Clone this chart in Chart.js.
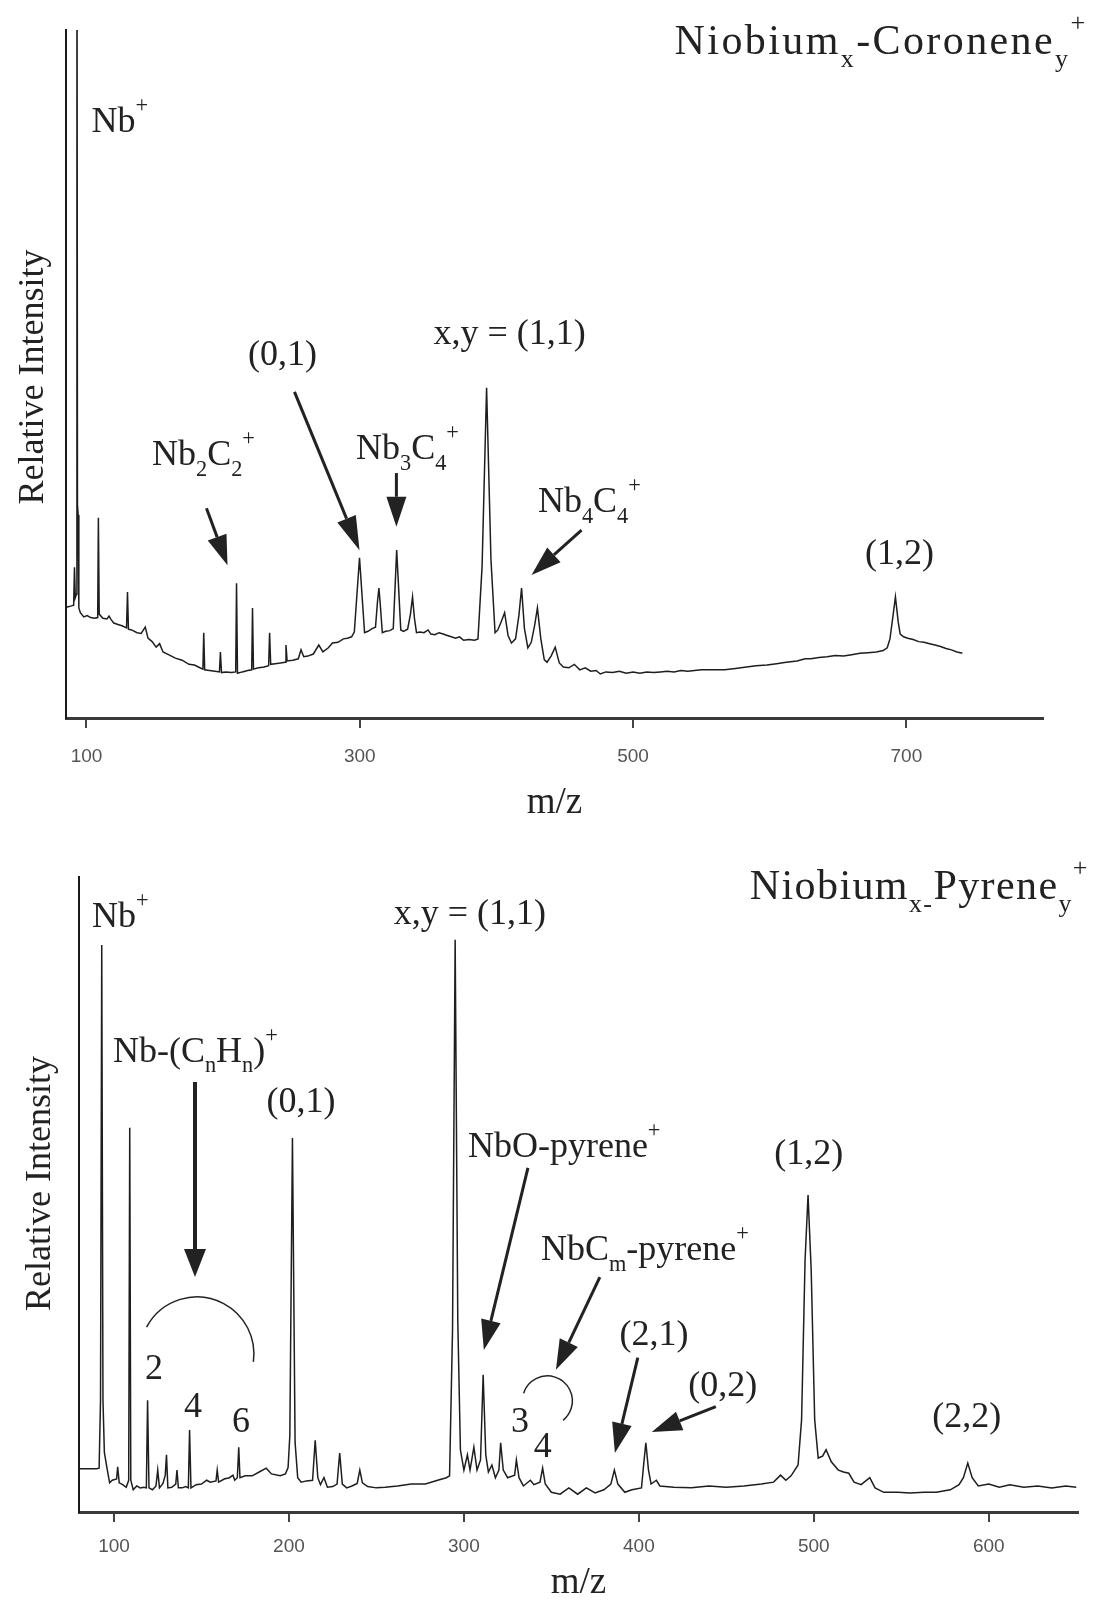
<!DOCTYPE html>
<html>
<head>
<meta charset="utf-8">
<script src="https://cdn.jsdelivr.net/npm/chart.js@4.4.1/dist/chart.umd.min.js"></script>
<style>
  body { margin: 0; background: #fff; }
  canvas { position: absolute; left: 0; }
</style>
</head>
<body>
<canvas id="coroneneChart" width="1099" height="820" style="top:0"></canvas>
<canvas id="pyreneChart" width="1099" height="780" style="top:820px"></canvas>
<script>
// Nb / coronene mass spectrum (m/z, relative intensity)
const coroneneMz = [
  85.3, 89.0, 90.6, 91.2, 91.8, 92.6, 93.0, 93.4, 93.9, 94.4, 95.5, 98.0, 100.5, 103.0, 106.0,
  108.2, 108.7, 109.3, 112.0, 115.0, 116.5, 118.0, 120.0, 123.0, 126.0, 129.3, 130.0, 130.7,
  133.0, 137.0, 140.0, 143.0, 145.0, 148.0, 151.0, 153.5, 156.0, 160.0, 165.0, 170.0, 175.0,
  179.0, 183.0, 185.2, 185.8, 186.5, 190.0, 194.0, 197.3, 198.0, 198.8, 202.0, 206.0, 209.2,
  209.8, 210.5, 214.0, 218.0, 220.9, 221.5, 222.2, 226.0, 230.0, 233.3, 234.0, 234.8, 238.0,
  242.0, 245.3, 246.0, 246.8, 251.0, 255.0, 257.0, 259.0, 262.0, 266.0, 270.0, 273.0, 277.0,
  280.0, 284.0, 288.0, 291.0, 294.0, 296.0, 299.8, 303.5, 306.0, 309.0, 311.5, 313.0, 314.0,
  315.0, 316.5, 319.0, 322.0, 324.5, 327.0, 330.0, 332.0, 335.0, 337.0, 338.6, 340.0, 341.5,
  344.0, 347.0, 350.0, 352.0, 355.0, 358.0, 361.0, 364.0, 367.0, 370.0, 373.0, 376.0, 380.0,
  384.0, 386.5, 389.5, 392.8, 396.0, 399.0, 401.0, 403.5, 406.0, 408.5, 411.0, 414.0, 416.5,
  418.4, 420.5, 423.0, 425.5, 428.0, 430.0, 432.5, 435.0, 437.0, 440.0, 443.0, 446.0, 449.0,
  453.0, 457.0, 461.0, 465.0, 469.0, 473.0, 476.0, 480.0, 485.0, 490.0, 495.0, 500.0, 505.0,
  510.0, 515.0, 520.0, 525.0, 530.0, 535.0, 540.0, 545.0, 550.0, 558.0, 567.0, 575.0, 583.0,
  590.0, 598.0, 605.0, 612.0, 620.0, 626.0, 630.0, 636.0, 642.0, 648.0, 654.0, 660.0, 666.0,
  672.0, 678.0, 683.0, 686.0, 688.0, 690.0, 692.0, 694.0, 695.5, 698.0, 701.0, 705.0, 709.0,
  713.0, 717.0, 721.0, 725.0, 729.0, 733.0, 737.0, 741.0
];
const coroneneSignal = [
  16.1, 16.3, 16.4, 21.9, 17.5, 18.0, 130, 31.0, 29.5, 16.0, 15.3, 14.7, 14.9, 14.6, 14.5,
  14.6, 29.1, 15.1, 14.5, 14.4, 14.8, 14.3, 13.8, 13.6, 13.4, 13.1, 18.3, 12.9,
  12.8, 12.4, 12.3, 13.2, 11.6, 11.1, 10.3, 10.8, 9.6, 9.2, 8.7, 8.4, 7.8,
  7.7, 7.3, 7.1, 12.4, 7.0, 6.9, 6.8, 6.7, 9.6, 6.6, 6.7, 6.6, 6.7,
  19.6, 6.5, 6.7, 6.9, 7.0, 16.0, 7.1, 7.3, 7.4, 7.6, 12.4, 7.8, 7.9,
  8.0, 8.1, 10.6, 8.3, 8.4, 8.6, 9.9, 8.9, 9.0, 9.3, 10.6, 9.6, 10.2,
  10.9, 11.0, 11.5, 11.6, 11.8, 12.5, 23.3, 12.4, 12.6, 13.0, 13.2, 17.0, 18.9,
  16.5, 12.4, 12.6, 12.7, 13.0, 24.4, 12.8, 12.6, 12.9, 15.0, 17.6, 14.5, 12.4,
  12.5, 12.4, 12.8, 12.2, 12.1, 12.4, 12.2, 12.0, 11.8, 11.6, 11.8, 11.3, 11.4,
  11.3, 11.5, 22.0, 48.0, 23.0, 12.4, 12.8, 14.0, 15.3, 12.0, 10.9, 11.5, 15.0,
  18.9, 13.0, 10.2, 11.0, 13.5, 16.0, 11.5, 8.5, 8.1, 9.0, 10.3, 8.0, 7.4,
  7.3, 7.8, 7.0, 7.3, 6.8, 6.9, 6.4, 6.7, 6.6, 6.8, 6.5, 6.7, 6.5,
  6.7, 6.6, 6.7, 6.8, 6.7, 6.9, 6.8, 6.9, 7.0, 7.0, 7.0, 7.2, 7.4,
  7.6, 7.7, 7.9, 8.1, 8.3, 8.6, 8.6, 8.8, 8.9, 9.1, 9.0, 9.2, 9.4,
  9.5, 9.6, 9.8, 10.2, 11.5, 14.5, 17.6, 14.0, 12.2, 11.8, 11.6, 11.4, 11.1,
  11.0, 10.8, 10.6, 10.4, 10.1, 9.9, 9.6, 9.4
];
const coroneneTicks = [100, 300, 500, 700];

// Nb / pyrene mass spectrum (m/z, relative intensity)
const pyreneMz = [
  80.0, 85.0, 90.0, 91.5, 92.3, 93.0, 93.7, 94.5, 96.0, 97.5, 99.0, 101.5, 102.1, 103.0, 105.0,
  107.0, 108.4, 109.0, 109.6, 111.0, 113.0, 115.0, 117.0, 118.5, 119.2, 120.0, 122.0, 124.0,
  125.0, 126.0, 128.0, 129.3, 130.0, 130.8, 133.0, 135.3, 136.0, 136.8, 139.0, 141.0, 142.5,
  143.2, 144.0, 147.0, 150.0, 153.0, 155.0, 158.3, 159.0, 159.8, 163.0, 166.0, 168.0, 169.0,
  170.5, 171.3, 172.0, 175.0, 179.0, 183.0, 187.0, 190.0, 195.0, 198.0, 199.5, 200.5, 202.0,
  203.5, 205.0, 207.0, 210.0, 213.5, 215.0, 216.5, 218.0, 220.0, 222.0, 225.0, 227.5, 229.0,
  230.5, 233.0, 236.0, 239.0, 240.5, 242.0, 245.0, 250.0, 255.0, 262.0, 270.0, 278.0, 285.0,
  290.0, 291.8, 293.5, 295.0, 296.5, 298.0, 300.0, 302.0, 303.5, 305.7, 307.5, 309.5, 311.0,
  312.5, 314.0, 316.0, 318.0, 320.0, 321.0, 322.5, 325.0, 329.0, 330.0, 331.5, 334.0, 338.0,
  340.0, 343.5, 345.0, 346.5, 350.0, 355.0, 360.0, 365.0, 370.0, 375.0, 380.0, 384.0, 386.0,
  388.0, 392.0, 396.0, 401.5, 403.0, 404.0, 405.5, 407.0, 410.0, 412.0, 420.0, 430.0, 440.0,
  450.0, 460.0, 470.0, 477.0, 481.0, 484.0, 487.0, 491.0, 493.0, 495.0, 496.7, 498.5, 500.5,
  502.5, 505.0, 507.0, 510.0, 514.0, 517.0, 520.0, 523.0, 527.0, 532.0, 535.0, 540.0, 548.0,
  555.0, 563.0, 570.0, 578.0, 583.0, 585.5, 588.0, 590.5, 594.0, 600.0, 606.0, 612.0, 620.0,
  628.0, 636.0, 644.0, 650.0
];
const pyreneSignal = [
  6.8, 6.8, 6.8, 6.9, 17.6, 89.3, 17.6, 9.4, 6.9, 4.6, 5.0, 5.2, 7.1, 4.6, 4.3,
  3.9, 5.0, 60.5, 5.0, 3.5, 4.1, 3.8, 3.9, 3.8, 17.6, 3.8, 3.5, 4.1,
  6.6, 3.8, 4.5, 5.8, 9.0, 3.8, 3.9, 4.4, 6.6, 3.8, 3.8, 4.0, 3.8,
  12.9, 3.8, 4.3, 4.4, 5.0, 4.7, 4.9, 6.6, 4.7, 5.2, 5.4, 5.8, 5.0,
  5.4, 10.2, 5.4, 5.7, 5.7, 6.3, 6.9, 6.0, 5.7, 6.0, 7.0, 12.0, 58.9,
  11.0, 5.4, 4.7, 4.9, 5.0, 11.3, 5.4, 4.3, 5.4, 3.9, 4.0, 4.4, 9.3,
  4.4, 3.8, 4.1, 4.5, 6.6, 4.6, 4.0, 3.8, 3.9, 4.1, 4.4, 4.4, 5.0,
  5.4, 5.7, 28.7, 90.1, 30.2, 9.8, 6.6, 9.0, 6.6, 10.2, 6.6, 8.2, 21.6,
  9.0, 6.3, 7.4, 5.4, 6.6, 10.9, 6.6, 5.4, 5.8, 8.2, 5.4, 4.1, 5.0,
  4.3, 4.7, 6.9, 4.4, 3.1, 2.8, 3.8, 2.8, 3.8, 3.0, 3.5, 4.4, 6.6,
  4.4, 3.1, 3.5, 3.8, 8.2, 10.9, 6.6, 4.4, 5.0, 4.1, 3.9, 3.8, 4.1,
  3.9, 4.1, 4.4, 4.7, 5.8, 5.0, 5.7, 7.4, 14.5, 39.7, 49.9, 38.1, 14.5,
  8.5, 8.8, 9.8, 7.9, 6.6, 6.3, 6.1, 4.7, 4.3, 5.4, 3.8, 3.1, 3.1,
  3.0, 3.1, 3.1, 3.5, 4.3, 5.4, 7.7, 5.4, 4.1, 4.4, 3.9, 4.3, 3.9,
  4.1, 3.8, 4.1, 3.9
];
const pyreneTicks = [100, 200, 300, 400, 500, 600];

const ink = '#222';
const serif = '"Liberation Serif", "Times New Roman", "DejaVu Serif", serif';
const tickFont = { family: '"Liberation Sans Narrow", "Liberation Sans", Arial, sans-serif', size: 19 };

// text with sub/superscript runs; y is the visual middle of the line
function drawRich(ctx, parts, x, yMid, size, align, spacing) {
  const small = size * 0.62;
  ctx.letterSpacing = (spacing || 0) + 'px';
  const widths = parts.map(([t, k]) => {
    ctx.font = `${k ? small : size}px ${serif}`;
    return ctx.measureText(t).width;
  });
  const total = widths.reduce((a, b) => a + b, 0);
  let cx = align === 'center' ? x - total / 2 : align === 'right' ? x - total : x;
  const base = yMid + size * 0.33;
  ctx.textAlign = 'left';
  ctx.textBaseline = 'alphabetic';
  parts.forEach(([t, k], i) => {
    ctx.font = `${k ? small : size}px ${serif}`;
    const dy = k === 'sub' ? size * 0.3 : k === 'sup' ? -size * 0.55 : 0;
    ctx.fillText(t, cx, base + dy);
    cx += widths[i];
  });
  ctx.letterSpacing = '0px';
}

function drawArrow(ctx, x0, y0, x1, y1, w, headLen, headW) {
  const ang = Math.atan2(y1 - y0, x1 - x0);
  const bx = x1 - Math.cos(ang) * headLen;
  const by = y1 - Math.sin(ang) * headLen;
  ctx.lineWidth = w;
  ctx.beginPath();
  ctx.moveTo(x0, y0);
  ctx.lineTo(bx, by);
  ctx.stroke();
  const nx = -Math.sin(ang) * headW / 2;
  const ny = Math.cos(ang) * headW / 2;
  ctx.beginPath();
  ctx.moveTo(x1, y1);
  ctx.lineTo(bx + nx, by + ny);
  ctx.lineTo(bx - nx, by - ny);
  ctx.closePath();
  ctx.fill();
}

// labels, arrows, arcs and axis titles
const notesPlugin = {
  id: 'notes',
  afterDraw(chart, args, opts) {
    const { ctx, chartArea } = chart;
    const xs = chart.scales.x, ys = chart.scales.y;
    const px = v => xs.getPixelForValue(v);
    const py = v => ys.getPixelForValue(v);
    ctx.save();
    ctx.fillStyle = ink;
    ctx.strokeStyle = ink;

    (opts.arcs || []).forEach(a => {
      ctx.lineWidth = a.width || 1.5;
      ctx.beginPath();
      ctx.arc(px(a.center[0]), py(a.center[1]), a.r, a.from * Math.PI / 180, a.to * Math.PI / 180);
      ctx.stroke();
    });

    (opts.arrows || []).forEach(a => {
      drawArrow(ctx, px(a.from[0]), py(a.from[1]), px(a.to[0]), py(a.to[1]),
        a.width || 3, a.head || 30, a.headWidth || 20);
    });

    (opts.labels || []).forEach(l => {
      drawRich(ctx, l.parts, px(l.at[0]), py(l.at[1]), l.size || 36, l.align || 'center', l.spacing);
    });

    // y title, rotated
    ctx.save();
    ctx.translate(chartArea.left - opts.yTitleGap, (chartArea.top + chartArea.bottom) / 2 + opts.yTitleShift);
    ctx.rotate(-Math.PI / 2);
    ctx.font = `36px ${serif}`;
    ctx.textAlign = 'center';
    ctx.textBaseline = 'alphabetic';
    ctx.fillText('Relative Intensity', 0, 0);
    ctx.restore();

    // x title
    ctx.font = `37px ${serif}`;
    ctx.textAlign = 'center';
    ctx.textBaseline = 'middle';
    ctx.fillText('m/z', (chartArea.left + chartArea.right) / 2, chartArea.bottom + opts.xTitleGap);
    ctx.restore();
  }
};

function spectrumChart(id, mz, signal, ticks, box, notes) {
  const ctx = document.getElementById(id).getContext('2d');
  const points = mz.map((m, i) => ({ x: m, y: signal[i] }));
  return new Chart(ctx, {
    type: 'line',
    data: {
      datasets: [{
        data: points,
        borderColor: '#1e1e1e',
        borderWidth: 1.5,
        pointRadius: 0,
        tension: 0,
        fill: false
      }]
    },
    options: {
      responsive: false,
      animation: false,
      devicePixelRatio: 1,
      layout: { padding: { top: box.top, right: box.right, bottom: 0, left: 0 } },
      plugins: {
        legend: { display: false },
        tooltip: { enabled: false },
        notes: notes
      },
      scales: {
        x: {
          type: 'linear',
          min: box.xMin,
          max: box.xMax,
          afterBuildTicks: scale => { scale.ticks = ticks.map(v => ({ value: v })); },
          afterFit: scale => { scale.height = box.xHeight; },
          ticks: { color: '#555', font: tickFont, padding: box.tickPad, callback: v => String(v) },
          grid: { drawOnChartArea: false, drawTicks: true, tickLength: 10, lineWidth: 2, color: '#444' },
          border: { display: true, color: '#3a3a3a', width: 3 }
        },
        y: {
          min: 0,
          max: 100,
          afterFit: scale => { scale.width = box.yWidth; },
          ticks: { display: false },
          grid: { display: false },
          border: { display: true, color: '#1a1a1a', width: 2 }
        }
      }
    },
    plugins: [notesPlugin]
  });
}

spectrumChart('coroneneChart', coroneneMz, coroneneSignal, coroneneTicks,
  { top: 30, right: 56, xHeight: 102, yWidth: 66, xMin: 85, xMax: 800, tickPad: 17 },
  {
    yTitleGap: 23, yTitleShift: 3, xTitleGap: 85,
    labels: [
      { parts: [['Niobium'], ['x', 'sub'], ['-Coronene'], ['y', 'sub'], ['+', 'sup']], at: [530.4, 98.5], size: 42, align: 'left', spacing: 2.4 },
      { parts: [['Nb'], ['+', 'sup']], at: [103.6, 86.9], align: 'left' },
      { parts: [['(0,1)']], at: [243.4, 53.1] },
      { parts: [['x,y = (1,1)']], at: [409.6, 56.1] },
      { parts: [['Nb'], ['2', 'sub'], ['C'], ['2', 'sub'], ['+', 'sup']], at: [185.6, 38.5] },
      { parts: [['Nb'], ['3', 'sub'], ['C'], ['4', 'sub'], ['+', 'sup']], at: [334.9, 39.4] },
      { parts: [['Nb'], ['4', 'sub'], ['C'], ['4', 'sub'], ['+', 'sup']], at: [468, 31.7] },
      { parts: [['(1,2)']], at: [695, 24.1] }
    ],
    arrows: [
      { from: [187.8, 30.5], to: [203.2, 22.2] },
      { from: [252.2, 47.4], to: [299.8, 24.4], head: 34 },
      { from: [326.8, 35.6], to: [326.8, 27.8] },
      { from: [462.3, 27.3], to: [425.7, 20.8] }
    ]
  });

spectrumChart('pyreneChart', pyreneMz, pyreneSignal, pyreneTicks,
  { top: 57, right: 21, xHeight: 88, yWidth: 79, xMin: 80, xMax: 651, tickPad: 13 },
  {
    yTitleGap: 29, yTitleShift: -11, xTitleGap: 71,
    labels: [
      { parts: [['Niobium'], ['x-', 'sub'], ['Pyrene'], ['y', 'sub'], ['+', 'sup']], at: [463.4, 98.7], size: 42, align: 'left', spacing: 1.4 },
      { parts: [['Nb'], ['+', 'sup']], at: [87.4, 94.0], align: 'left' },
      { parts: [['Nb-(C'], ['n', 'sub'], ['H'], ['n', 'sub'], [')'], ['+', 'sup']], at: [99.4, 72.8], align: 'left' },
      { parts: [['(0,1)']], at: [206.9, 64.9] },
      { parts: [['x,y = (1,1)']], at: [303.4, 94.5] },
      { parts: [['NbO-pyrene'], ['+', 'sup']], at: [302.3, 57.8], align: 'left' },
      { parts: [['(1,2)']], at: [497.1, 56.7] },
      { parts: [['NbC'], ['m', 'sub'], ['-pyrene'], ['+', 'sup']], at: [344, 41.6], align: 'left' },
      { parts: [['(2,1)']], at: [408.6, 28.1] },
      { parts: [['(0,2)']], at: [448, 20.2] },
      { parts: [['(2,2)']], at: [587.4, 15.3] },
      { parts: [['2']], at: [122.9, 22.8] },
      { parts: [['4']], at: [145.1, 16.9] },
      { parts: [['6']], at: [172.6, 14.5] },
      { parts: [['3']], at: [332, 14.5] },
      { parts: [['4']], at: [345.1, 10.6] }
    ],
    arrows: [
      { from: [146.3, 67.7], to: [146.3, 37.0], width: 4, head: 28, headWidth: 22 },
      { from: [336.6, 54.2], to: [311.4, 25.5] },
      { from: [377.7, 37.0], to: [352.6, 22.4] },
      { from: [399.4, 24.3], to: [386.3, 9.3] },
      { from: [444, 16.6], to: [407.4, 12.6] }
    ],
    arcs: [
      { center: [147.4, 24.9], r: 57, from: 208, to: 368 },
      { center: [347.7, 17.5], r: 25, from: 198, to: 411 }
    ]
  });
</script>
</body>
</html>
